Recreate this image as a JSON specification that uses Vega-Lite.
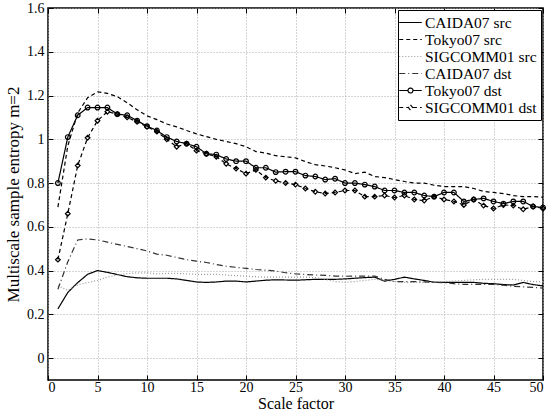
{
  "$schema": "https://vega.github.io/schema/vega-lite/v6.json",
  "autosize": {"type": "none"},
  "padding": {"left": 48, "top": 8, "right": 5, "bottom": 35},
  "width": 495,
  "height": 372,
  "config": {
    "font": "Liberation Serif",
    "view": {"stroke": "black", "strokeWidth": 1.5},
    "axis": {
      "labelFont": "Liberation Serif", "titleFont": "Liberation Serif",
      "labelFontSize": 14, "titleFontSize": 17, "titleFontWeight": "normal",
      "labelColor": "black", "titleColor": "black",
      "domain": false, "tickColor": "black", "tickSize": -5,
      "gridColor": "#aaaaaa", "gridDash": [1, 2], "gridWidth": 1
    }
  },
  "resolve": {"axis": {"x": "independent", "y": "independent"}},
  "data": {"values": [
    {"s":"CAIDA07 src","x":1,"v":0.225},{"s":"CAIDA07 src","x":2,"v":0.30},{"s":"CAIDA07 src","x":3,"v":0.345},{"s":"CAIDA07 src","x":4,"v":0.383},{"s":"CAIDA07 src","x":5,"v":0.40},{"s":"CAIDA07 src","x":6,"v":0.392},{"s":"CAIDA07 src","x":7,"v":0.382},{"s":"CAIDA07 src","x":8,"v":0.372},{"s":"CAIDA07 src","x":9,"v":0.367},{"s":"CAIDA07 src","x":10,"v":0.365},
    {"s":"CAIDA07 src","x":11,"v":0.365},{"s":"CAIDA07 src","x":12,"v":0.365},{"s":"CAIDA07 src","x":13,"v":0.362},{"s":"CAIDA07 src","x":14,"v":0.355},{"s":"CAIDA07 src","x":15,"v":0.348},{"s":"CAIDA07 src","x":16,"v":0.346},{"s":"CAIDA07 src","x":17,"v":0.348},{"s":"CAIDA07 src","x":18,"v":0.352},{"s":"CAIDA07 src","x":19,"v":0.352},{"s":"CAIDA07 src","x":20,"v":0.348},
    {"s":"CAIDA07 src","x":21,"v":0.352},{"s":"CAIDA07 src","x":22,"v":0.356},{"s":"CAIDA07 src","x":23,"v":0.358},{"s":"CAIDA07 src","x":24,"v":0.357},{"s":"CAIDA07 src","x":25,"v":0.356},{"s":"CAIDA07 src","x":26,"v":0.358},{"s":"CAIDA07 src","x":27,"v":0.36},{"s":"CAIDA07 src","x":28,"v":0.36},{"s":"CAIDA07 src","x":29,"v":0.36},{"s":"CAIDA07 src","x":30,"v":0.362},
    {"s":"CAIDA07 src","x":31,"v":0.365},{"s":"CAIDA07 src","x":32,"v":0.368},{"s":"CAIDA07 src","x":33,"v":0.37},{"s":"CAIDA07 src","x":34,"v":0.352},{"s":"CAIDA07 src","x":35,"v":0.36},{"s":"CAIDA07 src","x":36,"v":0.37},{"s":"CAIDA07 src","x":37,"v":0.362},{"s":"CAIDA07 src","x":38,"v":0.355},{"s":"CAIDA07 src","x":39,"v":0.347},{"s":"CAIDA07 src","x":40,"v":0.346},
    {"s":"CAIDA07 src","x":41,"v":0.346},{"s":"CAIDA07 src","x":42,"v":0.346},{"s":"CAIDA07 src","x":43,"v":0.346},{"s":"CAIDA07 src","x":44,"v":0.342},{"s":"CAIDA07 src","x":45,"v":0.34},{"s":"CAIDA07 src","x":46,"v":0.336},{"s":"CAIDA07 src","x":47,"v":0.334},{"s":"CAIDA07 src","x":48,"v":0.346},{"s":"CAIDA07 src","x":49,"v":0.336},{"s":"CAIDA07 src","x":50,"v":0.33},

    {"s":"Tokyo07 src","x":1,"v":0.69},{"s":"Tokyo07 src","x":2,"v":0.97},{"s":"Tokyo07 src","x":3,"v":1.12},{"s":"Tokyo07 src","x":4,"v":1.19},{"s":"Tokyo07 src","x":5,"v":1.217},{"s":"Tokyo07 src","x":6,"v":1.21},{"s":"Tokyo07 src","x":7,"v":1.195},{"s":"Tokyo07 src","x":8,"v":1.167},{"s":"Tokyo07 src","x":9,"v":1.135},{"s":"Tokyo07 src","x":10,"v":1.107},
    {"s":"Tokyo07 src","x":11,"v":1.09},{"s":"Tokyo07 src","x":12,"v":1.07},{"s":"Tokyo07 src","x":13,"v":1.057},{"s":"Tokyo07 src","x":14,"v":1.04},{"s":"Tokyo07 src","x":15,"v":1.025},{"s":"Tokyo07 src","x":16,"v":1.012},{"s":"Tokyo07 src","x":17,"v":1.0},{"s":"Tokyo07 src","x":18,"v":0.99},{"s":"Tokyo07 src","x":19,"v":0.98},{"s":"Tokyo07 src","x":20,"v":0.966},
    {"s":"Tokyo07 src","x":21,"v":0.944},{"s":"Tokyo07 src","x":22,"v":0.937},{"s":"Tokyo07 src","x":23,"v":0.925},{"s":"Tokyo07 src","x":24,"v":0.92},{"s":"Tokyo07 src","x":25,"v":0.915},{"s":"Tokyo07 src","x":26,"v":0.898},{"s":"Tokyo07 src","x":27,"v":0.884},{"s":"Tokyo07 src","x":28,"v":0.878},{"s":"Tokyo07 src","x":29,"v":0.87},{"s":"Tokyo07 src","x":30,"v":0.86},
    {"s":"Tokyo07 src","x":31,"v":0.843},{"s":"Tokyo07 src","x":32,"v":0.85},{"s":"Tokyo07 src","x":33,"v":0.83},{"s":"Tokyo07 src","x":34,"v":0.825},{"s":"Tokyo07 src","x":35,"v":0.816},{"s":"Tokyo07 src","x":36,"v":0.807},{"s":"Tokyo07 src","x":37,"v":0.80},{"s":"Tokyo07 src","x":38,"v":0.80},{"s":"Tokyo07 src","x":39,"v":0.79},{"s":"Tokyo07 src","x":40,"v":0.784},
    {"s":"Tokyo07 src","x":41,"v":0.784},{"s":"Tokyo07 src","x":42,"v":0.784},{"s":"Tokyo07 src","x":43,"v":0.775},{"s":"Tokyo07 src","x":44,"v":0.762},{"s":"Tokyo07 src","x":45,"v":0.757},{"s":"Tokyo07 src","x":46,"v":0.752},{"s":"Tokyo07 src","x":47,"v":0.743},{"s":"Tokyo07 src","x":48,"v":0.738},{"s":"Tokyo07 src","x":49,"v":0.738},{"s":"Tokyo07 src","x":50,"v":0.735},

    {"s":"SIGCOMM01 src","x":1,"v":0.33},{"s":"SIGCOMM01 src","x":2,"v":0.31},{"s":"SIGCOMM01 src","x":3,"v":0.335},{"s":"SIGCOMM01 src","x":4,"v":0.345},{"s":"SIGCOMM01 src","x":5,"v":0.355},{"s":"SIGCOMM01 src","x":6,"v":0.37},{"s":"SIGCOMM01 src","x":7,"v":0.38},{"s":"SIGCOMM01 src","x":8,"v":0.386},{"s":"SIGCOMM01 src","x":9,"v":0.39},{"s":"SIGCOMM01 src","x":10,"v":0.39},
    {"s":"SIGCOMM01 src","x":11,"v":0.385},{"s":"SIGCOMM01 src","x":12,"v":0.387},{"s":"SIGCOMM01 src","x":13,"v":0.387},{"s":"SIGCOMM01 src","x":14,"v":0.385},{"s":"SIGCOMM01 src","x":15,"v":0.383},{"s":"SIGCOMM01 src","x":16,"v":0.383},{"s":"SIGCOMM01 src","x":17,"v":0.383},{"s":"SIGCOMM01 src","x":18,"v":0.38},{"s":"SIGCOMM01 src","x":19,"v":0.377},{"s":"SIGCOMM01 src","x":20,"v":0.374},
    {"s":"SIGCOMM01 src","x":21,"v":0.372},{"s":"SIGCOMM01 src","x":22,"v":0.37},{"s":"SIGCOMM01 src","x":23,"v":0.37},{"s":"SIGCOMM01 src","x":24,"v":0.37},{"s":"SIGCOMM01 src","x":25,"v":0.37},{"s":"SIGCOMM01 src","x":26,"v":0.37},{"s":"SIGCOMM01 src","x":27,"v":0.368},{"s":"SIGCOMM01 src","x":28,"v":0.36},{"s":"SIGCOMM01 src","x":29,"v":0.35},{"s":"SIGCOMM01 src","x":30,"v":0.346},
    {"s":"SIGCOMM01 src","x":31,"v":0.35},{"s":"SIGCOMM01 src","x":32,"v":0.355},{"s":"SIGCOMM01 src","x":33,"v":0.36},{"s":"SIGCOMM01 src","x":34,"v":0.355},{"s":"SIGCOMM01 src","x":35,"v":0.35},{"s":"SIGCOMM01 src","x":36,"v":0.346},{"s":"SIGCOMM01 src","x":37,"v":0.346},{"s":"SIGCOMM01 src","x":38,"v":0.345},{"s":"SIGCOMM01 src","x":39,"v":0.348},{"s":"SIGCOMM01 src","x":40,"v":0.35},
    {"s":"SIGCOMM01 src","x":41,"v":0.352},{"s":"SIGCOMM01 src","x":42,"v":0.355},{"s":"SIGCOMM01 src","x":43,"v":0.358},{"s":"SIGCOMM01 src","x":44,"v":0.36},{"s":"SIGCOMM01 src","x":45,"v":0.36},{"s":"SIGCOMM01 src","x":46,"v":0.36},{"s":"SIGCOMM01 src","x":47,"v":0.36},{"s":"SIGCOMM01 src","x":48,"v":0.355},{"s":"SIGCOMM01 src","x":49,"v":0.35},{"s":"SIGCOMM01 src","x":50,"v":0.35},

    {"s":"CAIDA07 dst","x":1,"v":0.315},{"s":"CAIDA07 dst","x":2,"v":0.44},{"s":"CAIDA07 dst","x":3,"v":0.54},{"s":"CAIDA07 dst","x":4,"v":0.545},{"s":"CAIDA07 dst","x":5,"v":0.54},{"s":"CAIDA07 dst","x":6,"v":0.53},{"s":"CAIDA07 dst","x":7,"v":0.52},{"s":"CAIDA07 dst","x":8,"v":0.51},{"s":"CAIDA07 dst","x":9,"v":0.50},{"s":"CAIDA07 dst","x":10,"v":0.49},
    {"s":"CAIDA07 dst","x":11,"v":0.475},{"s":"CAIDA07 dst","x":12,"v":0.47},{"s":"CAIDA07 dst","x":13,"v":0.46},{"s":"CAIDA07 dst","x":14,"v":0.45},{"s":"CAIDA07 dst","x":15,"v":0.443},{"s":"CAIDA07 dst","x":16,"v":0.437},{"s":"CAIDA07 dst","x":17,"v":0.428},{"s":"CAIDA07 dst","x":18,"v":0.42},{"s":"CAIDA07 dst","x":19,"v":0.415},{"s":"CAIDA07 dst","x":20,"v":0.41},
    {"s":"CAIDA07 dst","x":21,"v":0.405},{"s":"CAIDA07 dst","x":22,"v":0.402},{"s":"CAIDA07 dst","x":23,"v":0.398},{"s":"CAIDA07 dst","x":24,"v":0.39},{"s":"CAIDA07 dst","x":25,"v":0.385},{"s":"CAIDA07 dst","x":26,"v":0.382},{"s":"CAIDA07 dst","x":27,"v":0.38},{"s":"CAIDA07 dst","x":28,"v":0.378},{"s":"CAIDA07 dst","x":29,"v":0.375},{"s":"CAIDA07 dst","x":30,"v":0.374},
    {"s":"CAIDA07 dst","x":31,"v":0.375},{"s":"CAIDA07 dst","x":32,"v":0.375},{"s":"CAIDA07 dst","x":33,"v":0.375},{"s":"CAIDA07 dst","x":34,"v":0.36},{"s":"CAIDA07 dst","x":35,"v":0.35},{"s":"CAIDA07 dst","x":36,"v":0.35},{"s":"CAIDA07 dst","x":37,"v":0.35},{"s":"CAIDA07 dst","x":38,"v":0.348},{"s":"CAIDA07 dst","x":39,"v":0.346},{"s":"CAIDA07 dst","x":40,"v":0.345},
    {"s":"CAIDA07 dst","x":41,"v":0.34},{"s":"CAIDA07 dst","x":42,"v":0.337},{"s":"CAIDA07 dst","x":43,"v":0.337},{"s":"CAIDA07 dst","x":44,"v":0.337},{"s":"CAIDA07 dst","x":45,"v":0.337},{"s":"CAIDA07 dst","x":46,"v":0.333},{"s":"CAIDA07 dst","x":47,"v":0.328},{"s":"CAIDA07 dst","x":48,"v":0.326},{"s":"CAIDA07 dst","x":49,"v":0.323},{"s":"CAIDA07 dst","x":50,"v":0.32},

    {"s":"Tokyo07 dst","x":1,"v":0.80},{"s":"Tokyo07 dst","x":2,"v":1.01},{"s":"Tokyo07 dst","x":3,"v":1.11},{"s":"Tokyo07 dst","x":4,"v":1.145},{"s":"Tokyo07 dst","x":5,"v":1.145},{"s":"Tokyo07 dst","x":6,"v":1.145},{"s":"Tokyo07 dst","x":7,"v":1.115},{"s":"Tokyo07 dst","x":8,"v":1.11},{"s":"Tokyo07 dst","x":9,"v":1.085},{"s":"Tokyo07 dst","x":10,"v":1.06},
    {"s":"Tokyo07 dst","x":11,"v":1.04},{"s":"Tokyo07 dst","x":12,"v":1.01},{"s":"Tokyo07 dst","x":13,"v":0.99},{"s":"Tokyo07 dst","x":14,"v":0.98},{"s":"Tokyo07 dst","x":15,"v":0.966},{"s":"Tokyo07 dst","x":16,"v":0.934},{"s":"Tokyo07 dst","x":17,"v":0.93},{"s":"Tokyo07 dst","x":18,"v":0.91},{"s":"Tokyo07 dst","x":19,"v":0.90},{"s":"Tokyo07 dst","x":20,"v":0.90},
    {"s":"Tokyo07 dst","x":21,"v":0.87},{"s":"Tokyo07 dst","x":22,"v":0.87},{"s":"Tokyo07 dst","x":23,"v":0.85},{"s":"Tokyo07 dst","x":24,"v":0.852},{"s":"Tokyo07 dst","x":25,"v":0.852},{"s":"Tokyo07 dst","x":26,"v":0.834},{"s":"Tokyo07 dst","x":27,"v":0.83},{"s":"Tokyo07 dst","x":28,"v":0.816},{"s":"Tokyo07 dst","x":29,"v":0.82},{"s":"Tokyo07 dst","x":30,"v":0.80},
    {"s":"Tokyo07 dst","x":31,"v":0.80},{"s":"Tokyo07 dst","x":32,"v":0.793},{"s":"Tokyo07 dst","x":33,"v":0.784},{"s":"Tokyo07 dst","x":34,"v":0.766},{"s":"Tokyo07 dst","x":35,"v":0.766},{"s":"Tokyo07 dst","x":36,"v":0.757},{"s":"Tokyo07 dst","x":37,"v":0.757},{"s":"Tokyo07 dst","x":38,"v":0.743},{"s":"Tokyo07 dst","x":39,"v":0.738},{"s":"Tokyo07 dst","x":40,"v":0.757},
    {"s":"Tokyo07 dst","x":41,"v":0.757},{"s":"Tokyo07 dst","x":42,"v":0.716},{"s":"Tokyo07 dst","x":43,"v":0.725},{"s":"Tokyo07 dst","x":44,"v":0.73},{"s":"Tokyo07 dst","x":45,"v":0.716},{"s":"Tokyo07 dst","x":46,"v":0.706},{"s":"Tokyo07 dst","x":47,"v":0.716},{"s":"Tokyo07 dst","x":48,"v":0.716},{"s":"Tokyo07 dst","x":49,"v":0.693},{"s":"Tokyo07 dst","x":50,"v":0.688},

    {"s":"SIGCOMM01 dst","x":1,"v":0.45},{"s":"SIGCOMM01 dst","x":2,"v":0.66},{"s":"SIGCOMM01 dst","x":3,"v":0.88},{"s":"SIGCOMM01 dst","x":4,"v":1.007},{"s":"SIGCOMM01 dst","x":5,"v":1.085},{"s":"SIGCOMM01 dst","x":6,"v":1.126},{"s":"SIGCOMM01 dst","x":7,"v":1.115},{"s":"SIGCOMM01 dst","x":8,"v":1.10},{"s":"SIGCOMM01 dst","x":9,"v":1.08},{"s":"SIGCOMM01 dst","x":10,"v":1.057},
    {"s":"SIGCOMM01 dst","x":11,"v":1.035},{"s":"SIGCOMM01 dst","x":12,"v":1.0},{"s":"SIGCOMM01 dst","x":13,"v":0.966},{"s":"SIGCOMM01 dst","x":14,"v":0.98},{"s":"SIGCOMM01 dst","x":15,"v":0.948},{"s":"SIGCOMM01 dst","x":16,"v":0.934},{"s":"SIGCOMM01 dst","x":17,"v":0.92},{"s":"SIGCOMM01 dst","x":18,"v":0.888},{"s":"SIGCOMM01 dst","x":19,"v":0.866},{"s":"SIGCOMM01 dst","x":20,"v":0.843},
    {"s":"SIGCOMM01 dst","x":21,"v":0.86},{"s":"SIGCOMM01 dst","x":22,"v":0.825},{"s":"SIGCOMM01 dst","x":23,"v":0.81},{"s":"SIGCOMM01 dst","x":24,"v":0.80},{"s":"SIGCOMM01 dst","x":25,"v":0.793},{"s":"SIGCOMM01 dst","x":26,"v":0.775},{"s":"SIGCOMM01 dst","x":27,"v":0.76},{"s":"SIGCOMM01 dst","x":28,"v":0.752},{"s":"SIGCOMM01 dst","x":29,"v":0.757},{"s":"SIGCOMM01 dst","x":30,"v":0.766},
    {"s":"SIGCOMM01 dst","x":31,"v":0.766},{"s":"SIGCOMM01 dst","x":32,"v":0.738},{"s":"SIGCOMM01 dst","x":33,"v":0.738},{"s":"SIGCOMM01 dst","x":34,"v":0.743},{"s":"SIGCOMM01 dst","x":35,"v":0.734},{"s":"SIGCOMM01 dst","x":36,"v":0.743},{"s":"SIGCOMM01 dst","x":37,"v":0.725},{"s":"SIGCOMM01 dst","x":38,"v":0.72},{"s":"SIGCOMM01 dst","x":39,"v":0.738},{"s":"SIGCOMM01 dst","x":40,"v":0.725},
    {"s":"SIGCOMM01 dst","x":41,"v":0.716},{"s":"SIGCOMM01 dst","x":42,"v":0.70},{"s":"SIGCOMM01 dst","x":43,"v":0.725},{"s":"SIGCOMM01 dst","x":44,"v":0.697},{"s":"SIGCOMM01 dst","x":45,"v":0.684},{"s":"SIGCOMM01 dst","x":46,"v":0.70},{"s":"SIGCOMM01 dst","x":47,"v":0.697},{"s":"SIGCOMM01 dst","x":48,"v":0.68},{"s":"SIGCOMM01 dst","x":49,"v":0.693},{"s":"SIGCOMM01 dst","x":50,"v":0.684}
  ]},
  "layer": [
    {
      "mark": {"type": "line", "strokeWidth": 1.2},
      "encoding": {
        "x": {"field": "x", "type": "quantitative", "title": "Scale factor",
          "scale": {"domain": [0, 50], "nice": false},
          "axis": {"values": [0,5,10,15,20,25,30,35,40,45,50], "grid": true, "labelPadding": 5, "titlePadding": 1, "titleFontSize": 16}},
        "y": {"field": "v", "type": "quantitative", "title": "Multiscale sample entropy m=2",
          "scale": {"domain": [-0.1, 1.6], "nice": false, "zero": false},
          "axis": {"values": [0,0.2,0.4,0.6,0.8,1,1.2,1.4,1.6], "format": ".1~f", "grid": true, "labelPadding": 9, "titlePadding": 4}},
        "color": {"field": "s", "type": "nominal",
          "scale": {"domain": ["CAIDA07 src","Tokyo07 src","SIGCOMM01 src","CAIDA07 dst","Tokyo07 dst","SIGCOMM01 dst"],
                    "range": ["black","black","#999999","#333333","black","black"]},
          "legend": {
            "title": null, "orient": "top-right", "offset": 2,
            "strokeColor": "black", "fillColor": "white", "padding": 4,
            "labelFont": "Liberation Serif", "labelFontSize": 15.5, "labelColor": "black",
            "symbolType": "stroke", "symbolSize": 225, "symbolStrokeWidth": 1.2,
            "rowPadding": 0, "labelOffset": 6, "labelLimit": 300,
            "encode": {"symbols": {"update": {"shape": {"signal": "datum.value === 'Tokyo07 dst' ? 'M-1.5,0L-0.33,0A0.33,0.33 0 1,1 0.33,0A0.33,0.33 0 1,1 -0.33,0M0.33,0L1.5,0' : datum.value === 'SIGCOMM01 dst' ? 'M-1.5,0L-0.33,0M0,-0.36L0.28,0L0,0.36L-0.28,0ZM0.33,0L1.5,0' : 'M-1.5,0L1.5,0'"}}}}
          }},
        "strokeDash": {"field": "s", "type": "nominal",
          "scale": {"domain": ["CAIDA07 src","Tokyo07 src","SIGCOMM01 src","CAIDA07 dst","Tokyo07 dst","SIGCOMM01 dst"],
                    "range": [[1,0],[4,3],[1,2],[6,3,1,3],[1,0],[4,3]]},
          "legend": null}
      }
    },
    {
      "transform": [{"filter": "datum.s === 'Tokyo07 dst' || datum.s === 'SIGCOMM01 dst'"}],
      "mark": {"type": "point", "filled": false, "stroke": "black", "strokeWidth": 1.2, "size": 22, "opacity": 1},
      "encoding": {
        "x": {"field": "x", "type": "quantitative",
          "axis": {"orient": "top", "values": [0,5,10,15,20,25,30,35,40,45,50], "labels": false, "title": null, "grid": false}},
        "y": {"field": "v", "type": "quantitative",
          "axis": {"orient": "right", "values": [0,0.2,0.4,0.6,0.8,1,1.2,1.4,1.6], "labels": false, "title": null, "grid": false}},
        "shape": {"field": "s", "type": "nominal",
          "scale": {"domain": ["Tokyo07 dst","SIGCOMM01 dst"], "range": ["circle","diamond"]},
          "legend": null}
      }
    }
  ]
}
